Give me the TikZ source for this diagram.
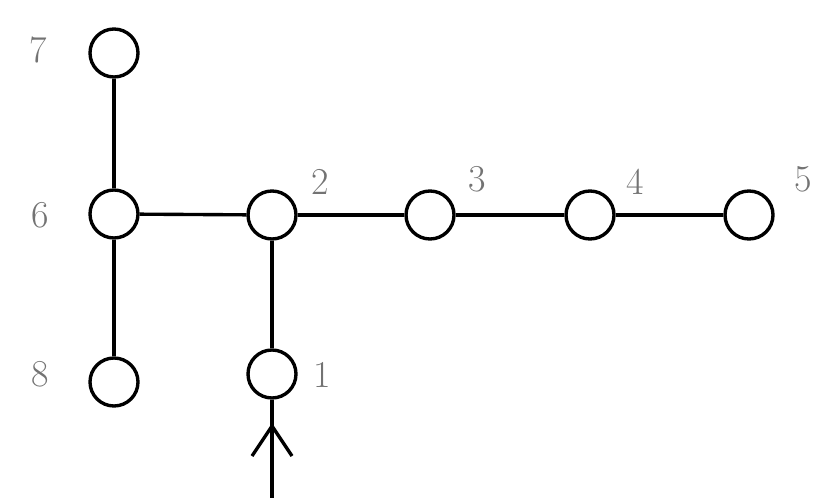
\documentclass[tikz,border=0pt]{standalone}
\usetikzlibrary{arrows.meta}
\begin{document}
\begin{tikzpicture}[x=0.025cm,y=-0.025cm,
  vtx/.style={circle,draw=black,line width=2.4pt,minimum size=48*0.025cm,inner sep=0pt},
  lbl/.style={text=black!55,font=\fontsize{27}{30}\selectfont,inner sep=0pt},
  edge/.style={line width=2.4pt}]
\useasboundingbox (0,0) rectangle (821,498);
\node[vtx] (n7) at (114,53) {};
\node[vtx] (n6) at (114,214) {};
\node[vtx] (n8) at (114,382) {};
\node[vtx] (n2) at (272,215) {};
\node[vtx] (n3) at (430,215) {};
\node[vtx] (n4) at (590,215) {};
\node[vtx] (n5) at (749,215) {};
\node[vtx] (n1) at (272,374) {};
\node[lbl] (l7) at (38,50) {7};
\node[lbl] (l6) at (40,215) {6};
\node[lbl] (l8) at (40,374) {8};
\node[lbl] (l2) at (320,182) {2};
\node[lbl] (l3) at (477,179) {3};
\node[lbl] (l4) at (635,182) {4};
\node[lbl] (l5) at (803,179) {5};
\node[lbl] (l1) at (322,375) {1};
\coordinate (bot) at (n1 |- 0,498);
\coordinate (tip) at (n1 |- 0,423);
\draw[edge] (n7) -- (n6);
\draw[edge] (n6) -- (n8);
\draw[edge] (n6) -- (n2);
\draw[edge] (n2) -- (n3);
\draw[edge] (n3) -- (n4);
\draw[edge] (n4) -- (n5);
\draw[edge] (n2) -- (n1);
\draw[edge] (bot) -- (n1);
\draw[edge,-{Straight Barb[length=30*0.025cm,width=40*0.025cm,line width=2.4pt]}] (bot) -- (tip);
\end{tikzpicture}
\end{document}
